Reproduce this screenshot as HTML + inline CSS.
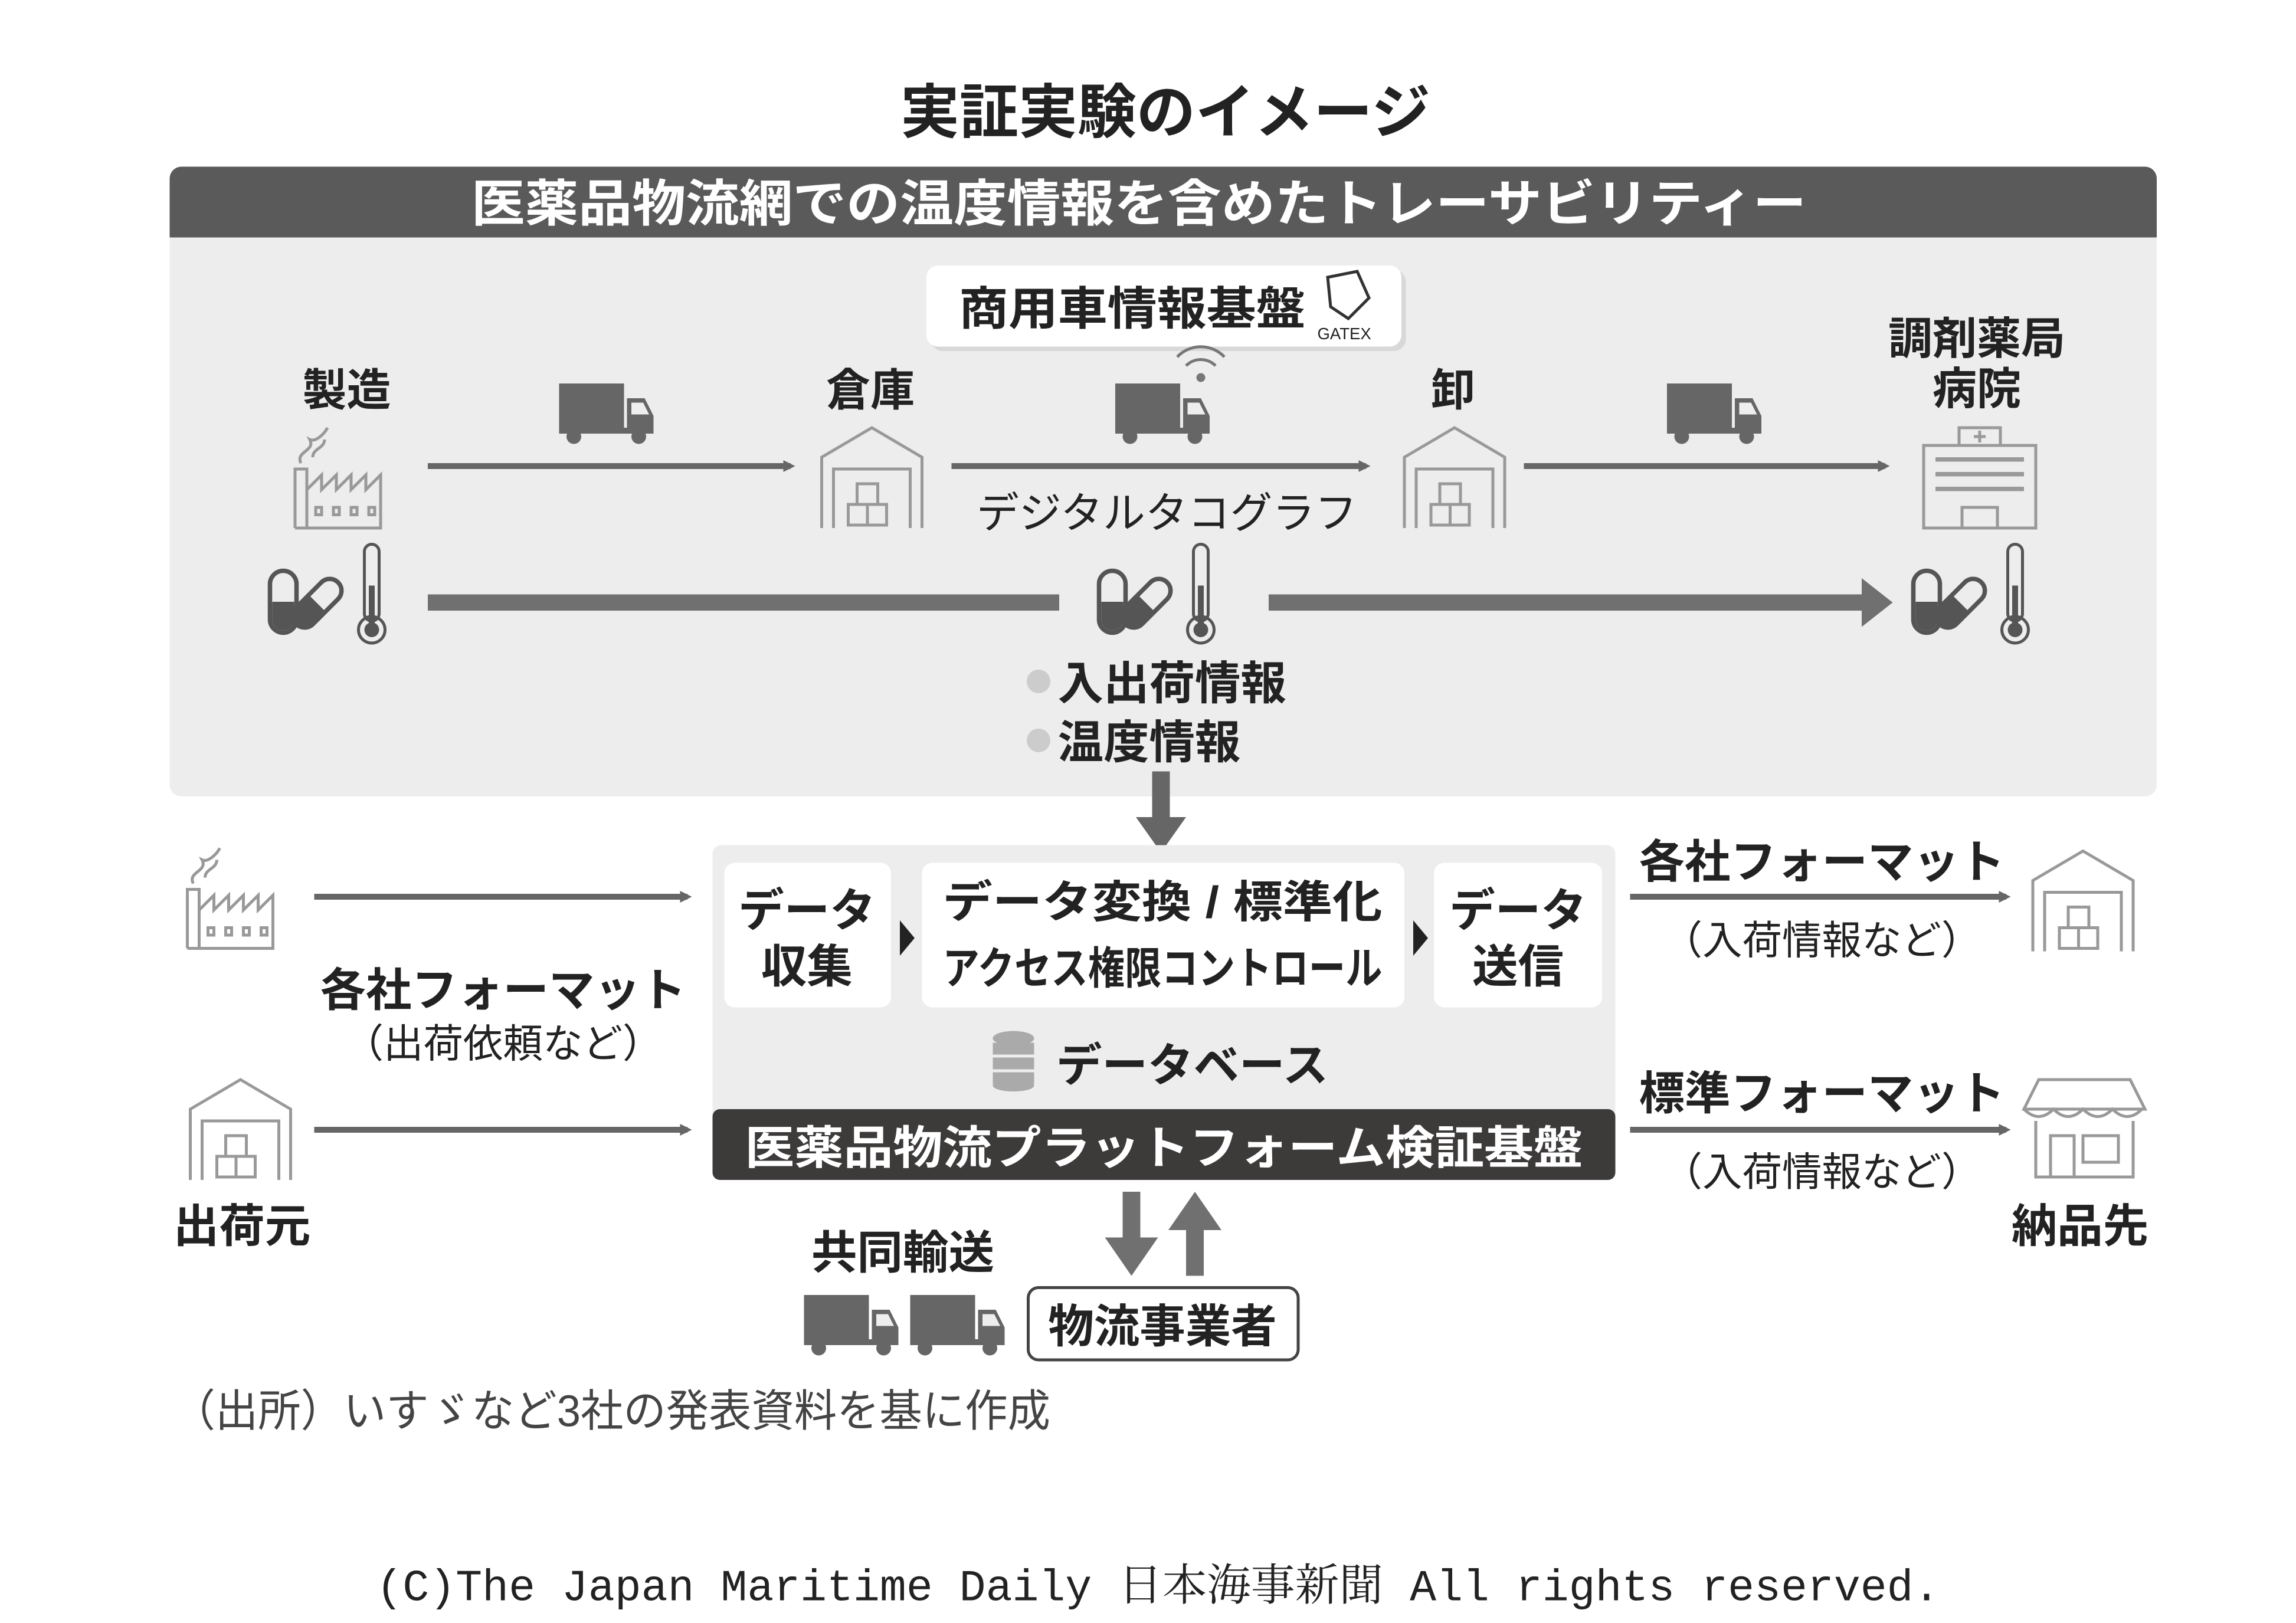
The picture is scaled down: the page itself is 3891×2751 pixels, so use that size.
<!DOCTYPE html>
<html><head><meta charset="utf-8"><style>html,body{margin:0;padding:0;background:#fff}svg{display:block}
text{font-family:"Liberation Sans","Noto Sans CJK JP",sans-serif;fill:#222}</style></head><body>
<svg width="3891" height="2751" viewBox="0 0 1556.4 1100.4" xmlns="http://www.w3.org/2000/svg">
<defs>
<g id="truck"><rect x="0" y="0" width="44" height="30" fill="#666"/><path d="M46 10 h12 l6 12 v12 h-18z" fill="#666"/><path d="M49 13 h8 l4 8 h-12z" fill="#eee"/><rect x="0" y="30" width="46" height="4" fill="#666"/><circle cx="10" cy="36" r="5" fill="#666"/><circle cx="54" cy="36" r="5" fill="#666"/></g>
<g id="wh" fill="none" stroke="#999" stroke-width="2"><path d="M2 70 V22 L36 2 L70 22 V70"/><path d="M10 70 V30 H62 V70"/><rect x="26" y="40" width="14" height="14"/><rect x="20" y="54" width="13" height="14"/><rect x="33" y="54" width="13" height="14"/></g>
<g id="fac" fill="none" stroke="#999" stroke-width="2"><path d="M2 70 V30 H10 V70 M10 44 l10 -10 v10 l10 -10 v10 l10 -10 v10 l10 -10 v10 l10 -10 v36 H2"/><path d="M16 56 h4 v5 h-4z M28 56 h4 v5 h-4z M40 56 h4 v5 h-4z M52 56 h4 v5 h-4z"/><path d="M6 26 c-4 -8 10 -8 6 -16 c4 2 10 -4 12 -8 M14 22 c0 -6 8 -6 8 -12"/></g>
<g id="pt"><rect x="0" y="0" width="18" height="42" rx="9" fill="none" stroke="#555" stroke-width="3"/><path d="M1.5 21 h15 v12 a7.5 7.5 0 0 1 -15 0z" fill="#555"/><g transform="translate(32 22) rotate(45)"><rect x="-8" y="-20" width="16" height="40" rx="8" fill="none" stroke="#555" stroke-width="3"/><path d="M-8 0 h16 v12 a8 8 0 0 1 -16 0z" fill="#555"/></g><rect x="64" y="-18" width="10" height="52" rx="5" fill="none" stroke="#555" stroke-width="2"/><circle cx="69" cy="40" r="9" fill="none" stroke="#555" stroke-width="2"/><circle cx="69" cy="40" r="5" fill="#555"/><rect x="67" y="10" width="4" height="28" fill="#555"/></g>
<marker id="ah" markerWidth="8" markerHeight="8" refX="5" refY="4" orient="auto" markerUnits="userSpaceOnUse" viewBox="0 0 8 8"><path d="M0 0 L8 4 L0 8z" fill="#666"/></marker>
</defs>
<text x="790" y="90" font-size="40" font-weight="bold" text-anchor="middle">実証実験のイメージ</text>
<rect x="115" y="113" width="1347" height="427" rx="8" fill="#ededed"/>
<path d="M115 161 V121 a8 8 0 0 1 8 -8 H1454 a8 8 0 0 1 8 8 V161z" fill="#5a5a5a"/>
<text x="772" y="150" font-size="34" font-weight="bold" text-anchor="middle" style="fill:#fff" textLength="905" lengthAdjust="spacingAndGlyphs">医薬品物流網での温度情報を含めたトレーサビリティー</text>
<rect x="631" y="183" width="322" height="55" rx="8" fill="#d8d8d8"/>
<rect x="628" y="180" width="322" height="55" rx="8" fill="#fff"/>
<text x="650" y="220" font-size="31" font-weight="bold" textLength="235" lengthAdjust="spacingAndGlyphs">商用車情報基盤</text>
<path d="M900 188 l20 -4 l8 18 l-14 14 l-12 -8z" fill="none" stroke="#333" stroke-width="2"/>
<text x="893" y="230" font-size="11">GATEX</text>
<text x="235" y="275" font-size="30" font-weight="bold" text-anchor="middle">製造</text>
<text x="590" y="275" font-size="30" font-weight="bold" text-anchor="middle">倉庫</text>
<text x="985" y="275" font-size="30" font-weight="bold" text-anchor="middle">卸</text>
<text x="1340" y="240" font-size="30" font-weight="bold" text-anchor="middle">調剤薬局</text>
<text x="1340" y="274" font-size="30" font-weight="bold" text-anchor="middle">病院</text>
<use href="#truck" x="379" y="260"/><use href="#truck" x="756" y="260"/><use href="#truck" x="1130" y="260"/>
<g fill="none" stroke="#777" stroke-width="2"><path d="M804 248 a14 14 0 0 1 20 0"/><path d="M798 242 a22 22 0 0 1 32 0"/></g><circle cx="814" cy="256" r="3" fill="#777"/>
<use href="#fac" x="198" y="288"/><use href="#wh" x="555" y="288"/><use href="#wh" x="950" y="288"/>
<g fill="none" stroke="#999" stroke-width="2"><rect x="1304" y="302" width="76" height="56"/><path d="M1328 302 v-12 h28 v12"/><path d="M1342 292 v8 M1338 296 h8"/><path d="M1330 358 v-14 h24 v14"/></g>
<g fill="#999"><rect x="1312" y="310" width="60" height="3"/><rect x="1312" y="320" width="60" height="3"/><rect x="1312" y="330" width="60" height="3"/></g>
<g stroke="#666" stroke-width="4" fill="none" marker-end="url(#ah)"><line x1="290" y1="316" x2="536" y2="316"/><line x1="645" y1="316" x2="926" y2="316"/><line x1="1033" y1="316" x2="1278" y2="316"/></g>
<text x="662" y="358" font-size="29" textLength="258" lengthAdjust="spacingAndGlyphs">デジタルタコグラフ</text>
<use href="#pt" x="183" y="387"/><use href="#pt" x="745" y="387"/><use href="#pt" x="1297" y="387"/>
<rect x="290" y="403" width="428" height="11" fill="#707070"/>
<rect x="860" y="403" width="406" height="11" fill="#707070"/><path d="M1262 392 L1283 408.5 L1262 425z" fill="#707070"/>
<circle cx="704" cy="462" r="8" fill="#ccc"/><circle cx="704" cy="502" r="8" fill="#ccc"/>
<text x="717" y="474" font-size="31" font-weight="bold">入出荷情報</text>
<text x="717" y="514" font-size="31" font-weight="bold">温度情報</text>
<rect x="781" y="523" width="12" height="33" fill="#666"/><path d="M770 554 h34 l-17 24z" fill="#666"/>
<rect x="483" y="573" width="612" height="227" rx="6" fill="#ededed"/>
<rect x="491" y="585" width="113" height="98" rx="7" fill="#fff"/>
<rect x="625" y="585" width="327" height="98" rx="7" fill="#fff"/>
<rect x="972" y="585" width="114" height="98" rx="7" fill="#fff"/>
<path d="M610 624 l10 12 l-10 12z" fill="#222"/><path d="M958 624 l10 12 l-10 12z" fill="#222"/>
<text x="547" y="628" font-size="31" font-weight="bold" text-anchor="middle">データ</text>
<text x="547" y="666" font-size="31" font-weight="bold" text-anchor="middle">収集</text>
<text x="788" y="622" font-size="30" font-weight="bold" text-anchor="middle" textLength="298" lengthAdjust="spacingAndGlyphs">データ変換 / 標準化</text>
<text x="788" y="667" font-size="30" font-weight="bold" text-anchor="middle" textLength="298" lengthAdjust="spacingAndGlyphs">アクセス権限コントロール</text>
<text x="1029" y="628" font-size="31" font-weight="bold" text-anchor="middle">データ</text>
<text x="1029" y="666" font-size="31" font-weight="bold" text-anchor="middle">送信</text>
<g fill="#aaa"><ellipse cx="687" cy="704" rx="14" ry="5"/><rect x="673" y="707" width="28" height="8"/><rect x="673" y="717" width="28" height="8"/><rect x="673" y="727" width="28" height="8"/><ellipse cx="687" cy="736" rx="14" ry="4"/></g>
<text x="716" y="733" font-size="31" font-weight="bold">データベース</text>
<rect x="483" y="752" width="612" height="48" rx="5" fill="#3d3a3a"/>
<text x="789" y="789" font-size="31" font-weight="bold" text-anchor="middle" style="fill:#fff" textLength="568" lengthAdjust="spacingAndGlyphs">医薬品物流プラットフォーム検証基盤</text>
<use href="#fac" x="125" y="573"/><use href="#wh" x="127" y="730"/>
<g stroke="#666" stroke-width="4" fill="none" marker-end="url(#ah)"><line x1="213" y1="608" x2="466" y2="608"/><line x1="213" y1="766" x2="466" y2="766"/><line x1="1105" y1="608" x2="1360" y2="608"/><line x1="1105" y1="766" x2="1360" y2="766"/></g>
<text x="341" y="682" font-size="31" font-weight="bold" text-anchor="middle">各社フォーマット</text>
<text x="341" y="717" font-size="27" text-anchor="middle">（出荷依頼など）</text>
<text x="164" y="842" font-size="31" font-weight="bold" text-anchor="middle">出荷元</text>
<text x="1235" y="595" font-size="31" font-weight="bold" text-anchor="middle">各社フォーマット</text>
<text x="1235" y="647" font-size="27" text-anchor="middle">（入荷情報など）</text>
<text x="1235" y="752" font-size="31" font-weight="bold" text-anchor="middle">標準フォーマット</text>
<text x="1235" y="804" font-size="27" text-anchor="middle">（入荷情報など）</text>
<use href="#wh" x="1376" y="575"/>
<g fill="none" stroke="#999" stroke-width="2"><path d="M1372 752 l10 -20 h62 l10 20z"/><path d="M1372 752 q10 10 20 0 q10 10 20 0 q10 10 20 0 q10 10 20 0"/><path d="M1380 760 v38 h66 v-38 M1390 798 v-28 h16 v28 M1412 770 h24 v18 h-24z"/></g>
<text x="1410" y="842" font-size="31" font-weight="bold" text-anchor="middle">納品先</text>
<rect x="761" y="808" width="12" height="33" fill="#707070"/><path d="M749 839 h36 l-18 26z" fill="#707070"/>
<rect x="804" y="832" width="12" height="33" fill="#707070"/><path d="M792 834 h36 l-18 -26z" fill="#707070"/>
<text x="612" y="860" font-size="31" font-weight="bold" text-anchor="middle">共同輸送</text>
<use href="#truck" x="545" y="878"/><use href="#truck" x="617" y="878"/>
<rect x="697" y="873" width="183" height="49" rx="7" fill="#fff" stroke="#444" stroke-width="2"/>
<text x="788" y="910" font-size="31" font-weight="bold" text-anchor="middle">物流事業者</text>
<text x="117" y="967" font-size="30" style="fill:#444" textLength="595" lengthAdjust="spacingAndGlyphs">（出所）いすゞなど3社の発表資料を基に作成</text>
<text x="255" y="1085" font-size="30" style="font-family:'Liberation Mono','Noto Serif CJK JP',monospace" textLength="1060" lengthAdjust="spacingAndGlyphs">(C)The Japan Maritime Daily 日本海事新聞 All rights reserved.</text>
</svg>
</body></html>
